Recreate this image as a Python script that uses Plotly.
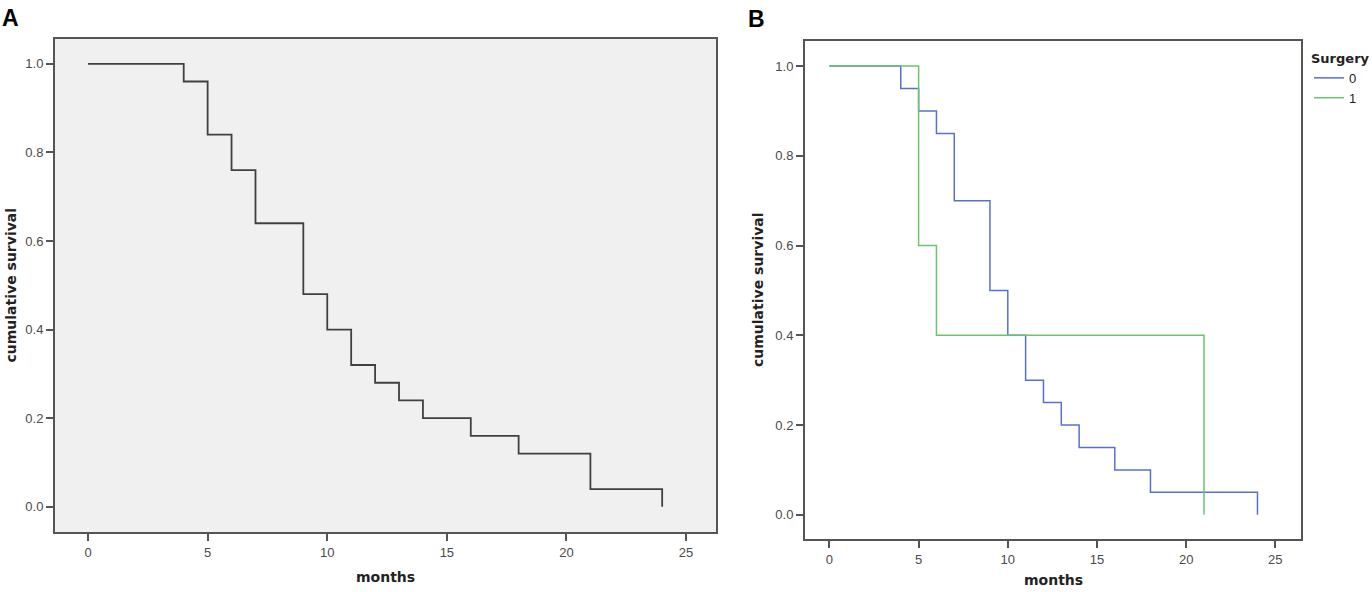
import plotly.graph_objects as go

# Kaplan-Meier step data
months_all = [0, 4, 5, 6, 7, 9, 10, 11, 12, 13, 14, 16, 18, 21, 24]
surv_all = [1.0, 0.96, 0.84, 0.76, 0.64, 0.48, 0.40, 0.32, 0.28, 0.24, 0.20, 0.16, 0.12, 0.04, 0.0]

months_s0 = [0, 4, 5, 6, 7, 9, 10, 11, 12, 13, 14, 16, 18, 24]
surv_s0 = [1.0, 0.95, 0.90, 0.85, 0.70, 0.50, 0.40, 0.30, 0.25, 0.20, 0.15, 0.10, 0.05, 0.0]

months_s1 = [0, 5, 6, 21]
surv_s1 = [1.0, 0.60, 0.40, 0.0]

x_ticks = [0, 5, 10, 15, 20, 25]
y_ticks = [0.0, 0.2, 0.4, 0.6, 0.8, 1.0]
y_ticklabels = ["0.0", "0.2", "0.4", "0.6", "0.8", "1.0"]

W, H = 1372, 592
FRAME = "#555555"
TICKFONT = dict(family="Liberation Sans, Arial, sans-serif", size=13, color="#4a4a4a")
BOLD = "DejaVu Sans, Verdana, sans-serif"

fig = go.Figure()

fig.add_trace(go.Scatter(x=months_all, y=surv_all, mode="lines", line_shape="hv",
                         line=dict(color="#404040", width=1.8),
                         xaxis="x", yaxis="y", showlegend=False))
fig.add_trace(go.Scatter(x=months_s0, y=surv_s0, mode="lines", line_shape="hv",
                         line=dict(color="#5b6fd0", width=1.5), name="0",
                         xaxis="x2", yaxis="y2"))
fig.add_trace(go.Scatter(x=months_s1, y=surv_s1, mode="lines", line_shape="hv",
                         line=dict(color="#6cc46c", width=1.5), name="1",
                         xaxis="x2", yaxis="y2"))


def px_x(p):
    return p / W


def px_y(p):
    return 1 - p / H


axis_common = dict(showgrid=False, zeroline=False, showline=True, mirror=True,
                   linecolor=FRAME, linewidth=2, ticks="outside", ticklen=7,
                   tickwidth=2, tickcolor=FRAME, tickfont=TICKFONT, fixedrange=True)

fig.update_layout(
    width=W, height=H,
    margin=dict(l=0, r=0, t=0, b=0),
    paper_bgcolor="white", plot_bgcolor="white",
    xaxis=dict(domain=[px_x(55), px_x(716)], range=[-1.38, 26.25], anchor="y",
               tickvals=x_ticks, **axis_common),
    yaxis=dict(domain=[px_y(532), px_y(39)], range=[-0.057, 1.056], anchor="x",
               tickvals=y_ticks, ticktext=y_ticklabels, **axis_common),
    xaxis2=dict(domain=[px_x(805), px_x(1301)], range=[-1.37, 26.44], anchor="y2",
                tickvals=x_ticks, **axis_common),
    yaxis2=dict(domain=[px_y(539), px_y(41)], range=[-0.054, 1.056], anchor="x2",
                tickvals=y_ticks, ticktext=y_ticklabels, **axis_common),
    legend=dict(x=px_x(1309), y=px_y(46), xanchor="left", yanchor="top",
                title=dict(text="<b>Surgery</b>", font=dict(family=BOLD, size=13, color="#222222")),
                font=dict(family=TICKFONT["family"], size=13, color="#222222"),
                itemwidth=30, bgcolor="rgba(0,0,0,0)", tracegroupgap=0),
    shapes=[dict(type="rect", xref="x domain", yref="y domain", x0=0, x1=1, y0=0, y1=1,
                 fillcolor="#f0f0f0", line=dict(width=0), layer="below")],
)

annots = [
    dict(text="<b>A</b>", x=px_x(0), y=px_y(3), xanchor="left", yanchor="top",
         font=dict(family="Liberation Sans, Arial, sans-serif", size=23, color="black")),
    dict(text="<b>B</b>", x=px_x(746), y=px_y(4), xanchor="left", yanchor="top",
         font=dict(family="Liberation Sans, Arial, sans-serif", size=23, color="black")),
    dict(text="<b>cumulative survival</b>", x=px_x(10), y=px_y(285.5), textangle=-90,
         xanchor="center", yanchor="middle", font=dict(family=BOLD, size=14, color="#222222")),
    dict(text="<b>cumulative survival</b>", x=px_x(758), y=px_y(290), textangle=-90,
         xanchor="center", yanchor="middle", font=dict(family=BOLD, size=14, color="#222222")),
    dict(text="<b>months</b>", x=px_x(385.5), y=px_y(577), xanchor="center", yanchor="middle",
         font=dict(family=BOLD, size=14, color="#222222")),
    dict(text="<b>months</b>", x=px_x(1053), y=px_y(580), xanchor="center", yanchor="middle",
         font=dict(family=BOLD, size=14, color="#222222")),
]
for a in annots:
    fig.add_annotation(xref="paper", yref="paper", showarrow=False, **a)

# the page body has a default 8px margin; drop it so the figure fills the window
fig.write_html("out.html", config={"displayModeBar": False},
               post_script="document.body.style.margin='0';")
